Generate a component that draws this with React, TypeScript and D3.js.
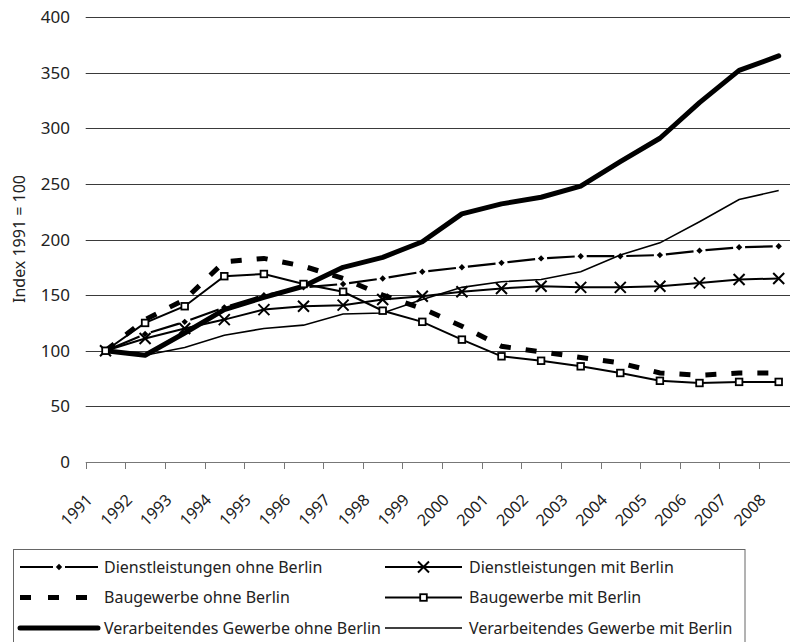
import React, { useRef, useEffect } from "react";
import * as d3 from "d3";

const years = ["1991", "1992", "1993", "1994", "1995", "1996", "1997", "1998", "1999",
  "2000", "2001", "2002", "2003", "2004", "2005", "2006", "2007", "2008"];

const dienstOhne = [100, 115, 126, 139, 150, 157, 160, 165, 171, 175, 179, 183, 185, 185, 186, 190, 193, 194];
const dienstMit = [100, 111, 120, 128, 137, 140, 141, 146, 149, 153, 156, 158, 157, 157, 158, 161, 164, 165];
const bauOhne = [100, 128, 146, 180, 183, 176, 165, 150, 138, 122, 104, 99, 94, 89, 80, 78, 80, 80];
const bauMit = [100, 125, 140, 167, 169, 160, 153, 136, 126, 110, 95, 91, 86, 80, 73, 71, 72, 72];
const verOhne = [100, 96, 116, 137, 148, 158, 175, 184, 198, 223, 232, 238, 248, 270, 291, 323, 352, 365];
const verMit = [100, 96, 103, 114, 120, 123, 133, 134, 146, 157, 162, 164, 171, 186, 197, 216, 236, 244];

const yTicks = [0, 50, 100, 150, 200, 250, 300, 350, 400];
const yTitle = "Index 1991 = 100";

const legendLabels = [
  "Dienstleistungen ohne Berlin",
  "Dienstleistungen mit Berlin",
  "Baugewerbe ohne Berlin",
  "Baugewerbe mit Berlin",
  "Verarbeitendes Gewerbe ohne Berlin",
  "Verarbeitendes Gewerbe mit Berlin",
];

const FONT = "'Noto Sans', 'Open Sans', sans-serif";

const App = () => {
  const ref = useRef<SVGSVGElement>(null);
  const width = 790;
  const height = 642;

  useEffect(() => {
    const svg = d3.select(ref.current);
    svg.selectAll("*").remove();

    const x = d3.scaleBand().domain(years).range([85.7, 798.5]);
    const cx = (yr: string) => (x(yr) as number) + x.bandwidth() / 2;
    const y = d3.scaleLinear().domain([0, 400]).range([462, 17]);

    // gridlines + y labels
    const grid = svg.append("g");
    grid.selectAll("line")
      .data(yTicks.filter((t) => t > 0))
      .enter()
      .append("line")
      .attr("x1", 85.7)
      .attr("x2", 798.5)
      .attr("y1", (d) => Math.round(y(d)) + 0.5)
      .attr("y2", (d) => Math.round(y(d)) + 0.5)
      .attr("stroke", "#3a3a3a")
      .attr("stroke-width", 1);

    grid.selectAll("text")
      .data(yTicks)
      .enter()
      .append("text")
      .attr("x", 70)
      .attr("y", (d) => y(d))
      .attr("dy", "0.36em")
      .attr("text-anchor", "end")
      .attr("font-family", FONT)
      .attr("font-size", 17)
      .attr("fill", "#222")
      .text((d) => d);

    // x axis
    const xAxisG = svg.append("g");
    xAxisG.append("line")
      .attr("x1", 85.7)
      .attr("x2", 798.5)
      .attr("y1", Math.round(y(0)) + 0.5)
      .attr("y2", Math.round(y(0)) + 0.5)
      .attr("stroke", "#777");
    const bounds = years.map((yr) => x(yr) as number).concat([798.5]);
    xAxisG.selectAll(".tick")
      .data(bounds)
      .enter()
      .append("line")
      .attr("class", "tick")
      .attr("x1", (d) => Math.round(d) + 0.5)
      .attr("x2", (d) => Math.round(d) + 0.5)
      .attr("y1", Math.round(y(0)))
      .attr("y2", Math.round(y(0)) + 7)
      .attr("stroke", "#777");
    xAxisG.selectAll("text")
      .data(years)
      .enter()
      .append("text")
      .attr("transform", (d) => `translate(${cx(d) - 12},501) rotate(-45)`)
      .attr("text-anchor", "end")
      .attr("font-family", FONT)
      .attr("font-size", 16)
      .attr("fill", "#222")
      .text((d) => d);

    svg.append("text")
      .attr("transform", `translate(19,239) rotate(-90)`)
      .attr("text-anchor", "middle")
      .attr("dy", "0.35em")
      .attr("font-family", FONT)
      .attr("font-size", 16)
      .attr("fill", "#222")
      .text(yTitle);

    const lineGen = d3.line<number>()
      .x((_, i) => cx(years[i]))
      .y((d) => y(d));

    const plot = svg.append("g");

    // Dienstleistungen ohne Berlin: dash between diamond markers
    const gap = 6;
    dienstOhne.slice(1).forEach((v, i) => {
      const x0 = cx(years[i]);
      const y0 = y(dienstOhne[i]);
      const x1 = cx(years[i + 1]);
      const y1 = y(v);
      const len = Math.hypot(x1 - x0, y1 - y0);
      plot.append("path")
        .attr("d", `M${x0},${y0}L${x1},${y1}`)
        .attr("fill", "none")
        .attr("stroke", "#000")
        .attr("stroke-width", 2.2)
        .attr("stroke-dasharray", `0,${gap},${len - 2 * gap},${gap}`);
    });

    plot.append("path")
      .datum(dienstMit)
      .attr("d", lineGen)
      .attr("fill", "none")
      .attr("stroke", "#000")
      .attr("stroke-width", 2);

    plot.append("path")
      .datum(bauOhne)
      .attr("d", lineGen)
      .attr("fill", "none")
      .attr("stroke", "#000")
      .attr("stroke-width", 5)
      .attr("stroke-dasharray", "11,15");

    plot.append("path")
      .datum(bauMit)
      .attr("d", lineGen)
      .attr("fill", "none")
      .attr("stroke", "#000")
      .attr("stroke-width", 2);

    plot.append("path")
      .datum(verOhne)
      .attr("d", lineGen)
      .attr("fill", "none")
      .attr("stroke", "#000")
      .attr("stroke-width", 5)
      .attr("stroke-linejoin", "round")
      .attr("stroke-linecap", "round");

    plot.append("path")
      .datum(verMit)
      .attr("d", lineGen)
      .attr("fill", "none")
      .attr("stroke", "#000")
      .attr("stroke-width", 1.6);

    // markers
    const diamond = "M0,-3.2L3.2,0L0,3.2L-3.2,0Z";
    const drawDiamond = (g: any, px: number, py: number) =>
      g.append("path").attr("d", diamond).attr("transform", `translate(${px},${py})`).attr("fill", "#000");
    const drawX = (g: any, px: number, py: number) =>
      g.append("path")
        .attr("d", "M-5.5,-5.5L5.5,5.5M-5.5,5.5L5.5,-5.5")
        .attr("transform", `translate(${px},${py})`)
        .attr("stroke", "#000")
        .attr("stroke-width", 2)
        .attr("fill", "none");
    const drawSquare = (g: any, px: number, py: number) =>
      g.append("rect")
        .attr("x", px - 3.3)
        .attr("y", py - 3.3)
        .attr("width", 6.6)
        .attr("height", 6.6)
        .attr("fill", "#fff")
        .attr("stroke", "#000")
        .attr("stroke-width", 1.8);

    dienstOhne.forEach((v, i) => drawDiamond(plot, cx(years[i]), y(v)));
    dienstMit.forEach((v, i) => drawX(plot, cx(years[i]), y(v)));
    bauMit.forEach((v, i) => drawSquare(plot, cx(years[i]), y(v)));

    // legend
    const legend = svg.append("g");
    legend.append("rect")
      .attr("x", 13.5)
      .attr("y", 549.5)
      .attr("width", 731.5)
      .attr("height", 120)
      .attr("fill", "none")
      .attr("stroke", "#666");

    const rowY = [567, 597.5, 628];
    const cols = [{ x0: 20, x1: 98, tx: 104 }, { x0: 385, x1: 462, tx: 469 }];

    legendLabels.forEach((label, i) => {
      const c = cols[i % 2];
      const ry = rowY[Math.floor(i / 2)];
      const mid = (c.x0 + c.x1) / 2;
      const g = legend.append("g");
      if (i === 0) {
        g.append("line").attr("x1", c.x0).attr("x2", mid - 6).attr("y1", ry).attr("y2", ry).attr("stroke", "#000").attr("stroke-width", 2);
        g.append("line").attr("x1", mid + 6).attr("x2", c.x1).attr("y1", ry).attr("y2", ry).attr("stroke", "#000").attr("stroke-width", 2);
        drawDiamond(g, mid, ry);
      } else if (i === 2) {
        g.append("line").attr("x1", c.x0).attr("x2", c.x1 - 7).attr("y1", ry).attr("y2", ry).attr("stroke", "#000").attr("stroke-width", 5).attr("stroke-dasharray", "11,17");
      } else {
        g.append("line")
          .attr("x1", c.x0)
          .attr("x2", c.x1)
          .attr("y1", ry)
          .attr("y2", ry)
          .attr("stroke", "#000")
          .attr("stroke-width", i === 4 ? 5 : i === 5 ? 1.6 : 2)
          .attr("stroke-linecap", i === 4 ? "round" : "butt");
        if (i === 1) drawX(g, mid, ry);
        if (i === 3) drawSquare(g, mid, ry);
      }
      g.append("text")
        .attr("x", c.tx)
        .attr("y", ry)
        .attr("dy", "0.35em")
        .attr("font-family", FONT)
        .attr("font-size", 16)
        .attr("fill", "#222")
        .text(label);
    });
  }, []);

  return (
    <svg
      ref={ref}
      width={width}
      height={height}
      style={{ position: "absolute", left: 0, top: 0, background: "#fff" }}
    />
  );
};

export default App;
